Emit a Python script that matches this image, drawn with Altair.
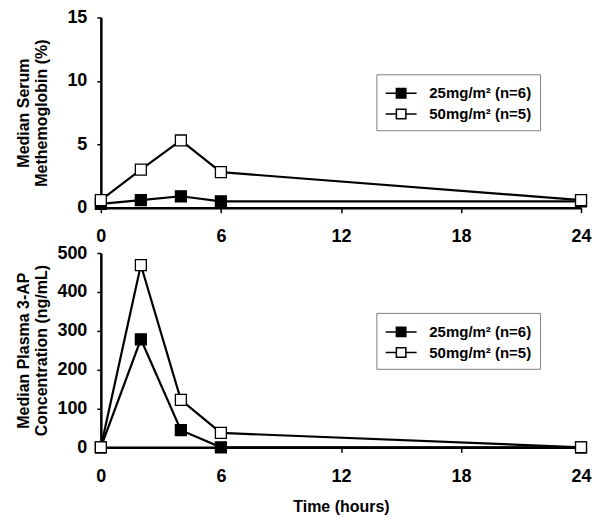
import altair as alt
import pandas as pd

# ---- data ----
times = [0, 2, 4, 6, 24]
series_names = ["25mg/m² (n=6)", "50mg/m² (n=5)"]
met_25 = [0.3, 0.6, 0.9, 0.5, 0.5]
met_50 = [0.6, 3.0, 5.3, 2.8, 0.6]
pk_25 = [0, 278, 44, 0, 0]
pk_50 = [0, 469, 122, 37, 0]
x_ticks = [0, 6, 12, 18, 24]
met_ticks = [0, 5, 10, 15]
pk_ticks = [0, 100, 200, 300, 400, 500]

FONT = "Liberation Sans"
W = 481


def make_df(a, b):
    rows = []
    for i, (name, vals) in enumerate(zip(series_names, [a, b])):
        for t, v in zip(times, vals):
            rows.append({"time": t, "value": v, "series": name, "ord": i})
    return pd.DataFrame(rows)


# legend glyph: line with a square in the middle (shifted right inside its slot)
LEG_PATH = "M-0.97,0H0.105M1.055,0H2.13M0.105,-0.475H1.055V0.475H0.105Z"


def panel(df, ydomain, yticks, ytitle, xtitle, H, legend_y):
    common = dict(values=x_ticks, labelFlush=False, tickSize=5, labelPadding=15)
    if xtitle:
        xaxis = alt.Axis(title=xtitle, titleFont=FONT, titleFontSize=16,
                         titleFontWeight="bold", titleColor="black",
                         titleBaseline="middle", titleY=59, **common)
    else:
        xaxis = alt.Axis(title=None, **common)
    x = alt.X("time:Q", scale=alt.Scale(domain=[0, 24], nice=False, zero=False),
              axis=xaxis)
    y = alt.Y("value:Q", scale=alt.Scale(domain=ydomain, nice=False),
              axis=alt.Axis(values=yticks, title=ytitle, tickSize=4,
                            labelPadding=10, titleX=-77, titleY=H / 2,
                            titleBaseline="middle", titleLineHeight=17.5,
                            titleFont=FONT, titleFontSize=16,
                            titleFontWeight="bold", titleColor="black"))
    base = alt.Chart(df)
    lines = base.mark_line(color="black", strokeWidth=2.2).encode(
        x=x, y=y, detail="series:N")
    pts = base.mark_point(shape="square", filled=True, size=120, stroke="black",
                          strokeWidth=1.3, opacity=1).encode(
        x=x, y=y,
        fill=alt.Fill("series:N",
                      scale=alt.Scale(domain=series_names, range=["black", "white"]),
                      legend=alt.Legend(
                          title=None, orient="none", legendX=276, legendY=legend_y,
                          symbolType=LEG_PATH, symbolSize=400,
                          symbolStrokeColor="black", symbolStrokeWidth=1.5,
                          labelFont=FONT, labelFontSize=15, labelFontWeight="bold",
                          labelColor="black", labelOffset=23,
                          strokeColor="#808080", padding=8, rowPadding=1.7,
                          fillColor="white")),
        order=alt.Order("ord:Q"))
    return alt.layer(lines, pts).properties(width=W, height=H)


top = panel(make_df(met_25, met_50), [0, 15], met_ticks,
            ["Median Serum", "Methemoglobin (%)"], None, 190.6, 57)
bottom = panel(make_df(pk_25, pk_50), [0, 500], pk_ticks,
               ["Median Plasma 3-AP", "Concentration (ng/mL)"], "Time (hours)",
               194.6, 60)

chart = alt.vconcat(top, bottom, spacing=-2).resolve_scale(
    fill="independent").resolve_legend(fill="independent").properties(
    padding={"top": 0, "left": 7, "right": 0, "bottom": 0},
    background="white",
).configure_view(stroke=None).configure_axis(
    grid=False, domainColor="black", domainWidth=2.5, tickColor="black",
    tickWidth=1.5, labelFont=FONT, labelFontSize=18, labelFontWeight="bold",
    labelColor="black",
)

chart.save("out.html", embed_options={"renderer": "svg", "actions": False})
